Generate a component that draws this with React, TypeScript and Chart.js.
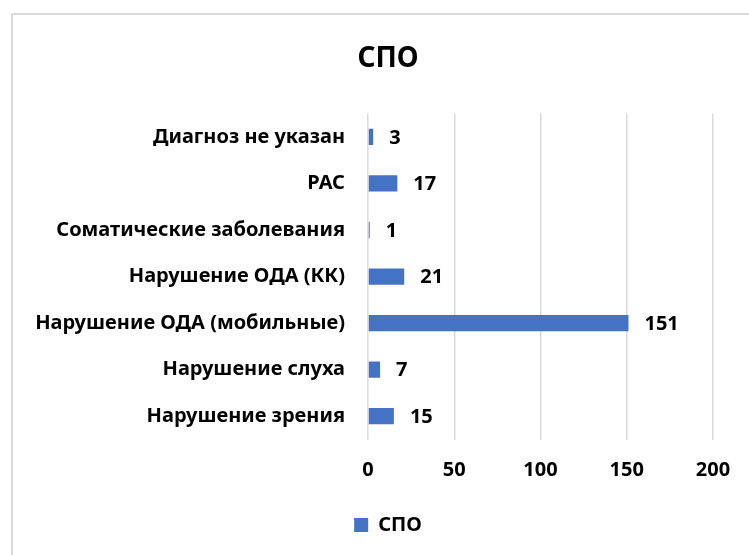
import React, { useEffect, useRef } from "react";
import { Chart, registerables } from "chart.js";

Chart.register(...registerables);

const categories = [
  "Диагноз не указан",
  "РАС",
  "Соматические заболевания",
  "Нарушение ОДА (КК)",
  "Нарушение ОДА (мобильные)",
  "Нарушение слуха",
  "Нарушение зрения",
];
const spoValues = [3, 17, 1, 21, 151, 7, 15];
const xTicks = [0, 50, 100, 150, 200];
const seriesName = "СПО";
const titleText = "СПО";

const FONT = "'Noto Sans', sans-serif";

const framePlugin = {
  id: "frame",
  beforeDraw(chart: any) {
    const { ctx, width, height } = chart;
    ctx.save();
    ctx.fillStyle = "#ffffff";
    ctx.fillRect(0, 0, width, height);
    ctx.strokeStyle = "#d9d9d9";
    ctx.lineWidth = 2;
    ctx.strokeRect(12, 14, width + 20, height + 20);
    ctx.restore();
  },
};

const valueLabelPlugin = {
  id: "valueLabels",
  afterDatasetsDraw(chart: any) {
    const { ctx } = chart;
    ctx.save();
    ctx.font = `bold 20px ${FONT}`;
    ctx.fillStyle = "#000000";
    ctx.textAlign = "left";
    ctx.textBaseline = "middle";
    chart.data.datasets.forEach((ds: any, di: number) => {
      const meta = chart.getDatasetMeta(di);
      meta.data.forEach((bar: any, i: number) => {
        ctx.fillText(String(ds.data[i]), bar.x + 16, bar.y + 1);
      });
    });
    ctx.restore();
  },
};

export default function App() {
  const canvasRef = useRef<HTMLCanvasElement | null>(null);

  useEffect(() => {
    document.body.style.margin = "0";
    const canvas = canvasRef.current;
    if (!canvas) return;
    const chart = new Chart(canvas, {
      type: "bar",
      data: {
        labels: categories,
        datasets: [
          {
            label: seriesName,
            data: spoValues,
            backgroundColor: "#4472C4",
            borderWidth: 0,
            categoryPercentage: 0.5,
            barPercentage: 0.7,
          },
        ],
      },
      options: {
        indexAxis: "y",
        animation: false,
        responsive: false,
        devicePixelRatio: 1,
        layout: { padding: { left: 27, right: 0, top: 0, bottom: 10 } },
        scales: {
          x: {
            min: 0,
            max: 200,
            afterBuildTicks(scale: any) {
              scale.ticks = xTicks.map((v) => ({ value: v }));
            },
            afterFit(scale: any) {
              scale.height = 65.5;
              scale.paddingRight = 36;
            },
            grid: { color: "#d9d9d9", lineWidth: 1.5, drawTicks: false },
            border: { display: false },
            ticks: {
              padding: 19,
              color: "#000000",
              font: { family: FONT, size: 20, weight: "bold" },
            },
          },
          y: {
            afterFit(scale: any) {
              scale.width = 341;
            },
            grid: { display: false, drawTicks: false },
            border: { display: false },
            ticks: {
              padding: 23,
              color: "#000000",
              font: { family: FONT, size: 20, weight: "bold" },
            },
          },
        },
        plugins: {
          title: {
            display: true,
            text: titleText,
            color: "#000000",
            font: { family: FONT, size: 28, weight: "bold" },
            padding: { top: 42, bottom: 38 },
          },
          legend: {
            display: true,
            position: "bottom",
            labels: {
              boxWidth: 14,
              boxHeight: 14,
              padding: 10,
              color: "#000000",
              font: { family: FONT, size: 20, weight: "bold" },
            },
          },
          tooltip: { enabled: false },
        },
      },
      plugins: [framePlugin, valueLabelPlugin],
    });
    return () => chart.destroy();
  }, []);

  return (
    <div style={{ width: 749, height: 555 }}>
      <canvas ref={canvasRef} width={749} height={555} />
    </div>
  );
}
